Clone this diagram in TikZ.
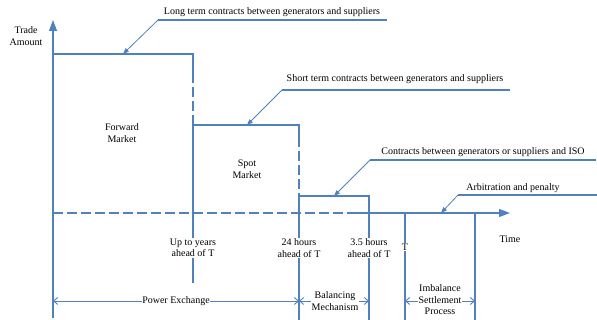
\documentclass[tikz,border=0pt]{standalone}
\usepackage{fontspec}
\setmainfont{Liberation Serif}
\usetikzlibrary{arrows.meta}
\definecolor{lb}{RGB}{79,129,189}
\tikzset{
  ln/.style={draw=lb, line width=1.1pt},
  dsh/.style={ln, dash pattern=on 10pt off 4pt},
  lbl/.style={font=\fontsize{10}{11.5}\selectfont, inner sep=1pt, align=center},
  wlbl/.style={lbl, fill=white},
  bigtip/.style={-{Triangle[length=11pt,width=8pt]}},
  smalltip/.style={-{Triangle[length=6pt,width=4.5pt]}},
  span/.style={ln, line width=0.9pt, {Straight Barb[length=4pt,width=7pt]}-{Straight Barb[length=4pt,width=7pt]}}
}
\begin{document}
\begin{tikzpicture}[x=1pt,y=-1pt]
\useasboundingbox (0,0) rectangle (597,320);
% axes
\coordinate (ybot) at (53,318);
\coordinate (ytop) at (53,20);
\draw[ln, bigtip] (ybot) -- (ytop);
\coordinate (t0) at (53,213);
\coordinate (t1) at (352,213);
\coordinate (tend) at (510,213);
\draw[dsh] (t0) -- (t1);
\draw[ln, bigtip] (t1) -- (tend);
\node[lbl] (ta) at (26,36) {Trade\\Amount};
\node[lbl] (time) at (510,239) {Time};
% steps
\coordinate (a1) at (53,54);
\coordinate (a2) at (193,54);
\coordinate (a3) at (193,73);
\coordinate (b1) at (193,125);
\coordinate (b2) at (299,125);
\coordinate (b3) at (299,137);
\coordinate (c1) at (299,196);
\coordinate (c2) at (369,196);
\draw[ln] (a1) -- (a2) -- (a3);
\draw[dsh] (a3) -- (b1);
\draw[ln] (b1) -- (b2) -- (b3);
\draw[dsh] (b3) -- (c1);
\draw[ln] (c1) -- (c2) -- (369,320);
\draw[ln] (b1) -- (193,283);
\draw[ln] (c1) -- (299,320);
\draw[ln] (405,213) -- (405,320);
\draw[ln] (475,213) -- (475,320);
\node[lbl] (fm) at (122,133) {Forward\\Market};
\node[lbl] (sm) at (247,169) {Spot\\Market};
\node[wlbl] (up) at (193,248) {Up to years\\ahead of T};
\node[wlbl] (h24) at (299,248) {24 hours\\ahead of T};
\node[wlbl] (h35) at (369,248) {3.5 hours\\ahead of T};
\node[wlbl] (tt) at (405,247) {T};
% spans
\coordinate (p0) at (53,301);
\coordinate (p1) at (299,301);
\coordinate (p2) at (369,301);
\coordinate (p3) at (405,301);
\coordinate (p4) at (475,301);
\draw[span] (p0) -- (p1);
\draw[span] (p1) -- (p2);
\draw[span] (p3) -- (p4);
\node[wlbl, inner sep=0.5pt] (pe) at (176,301) {Power Exchange};
\node[wlbl, inner sep=0.5pt] (bm) at (335,301) {Balancing\\Mechanism};
\node[wlbl, inner sep=0.5pt] (isp) at (440,300) {Imbalance\\Settlement\\Process};
% leaders
\node[lbl] (l1) at (272,12) {Long term contracts between generators and suppliers};
\coordinate (l1s) at (158,20);
\coordinate (l1e) at (387,20);
\coordinate (l1t) at (123,54);
\draw[ln] (l1e) -- (l1s);
\draw[ln, smalltip, line width=0.8pt] (l1s) -- (l1t);
\node[lbl] (l2) at (395,79) {Short term contracts between generators and suppliers};
\coordinate (l2s) at (282,90);
\coordinate (l2e) at (510,90);
\coordinate (l2t) at (247,125);
\draw[ln] (l2e) -- (l2s);
\draw[ln, smalltip, line width=0.8pt] (l2s) -- (l2t);
\node[lbl] (l3) at (483,152) {Contracts between generators or suppliers and ISO};
\coordinate (l3s) at (370,160);
\coordinate (l3e) at (596,160);
\coordinate (l3t) at (334,196);
\draw[ln] (l3e) -- (l3s);
\draw[ln, smalltip, line width=0.8pt] (l3s) -- (l3t);
\node[lbl] (l4) at (513,188) {Arbitration and penalty};
\coordinate (l4s) at (458,195);
\coordinate (l4e) at (597,195);
\coordinate (l4t) at (441,213);
\draw[ln] (l4e) -- (l4s);
\draw[ln, smalltip, line width=0.8pt] (l4s) -- (l4t);
\end{tikzpicture}
\end{document}
